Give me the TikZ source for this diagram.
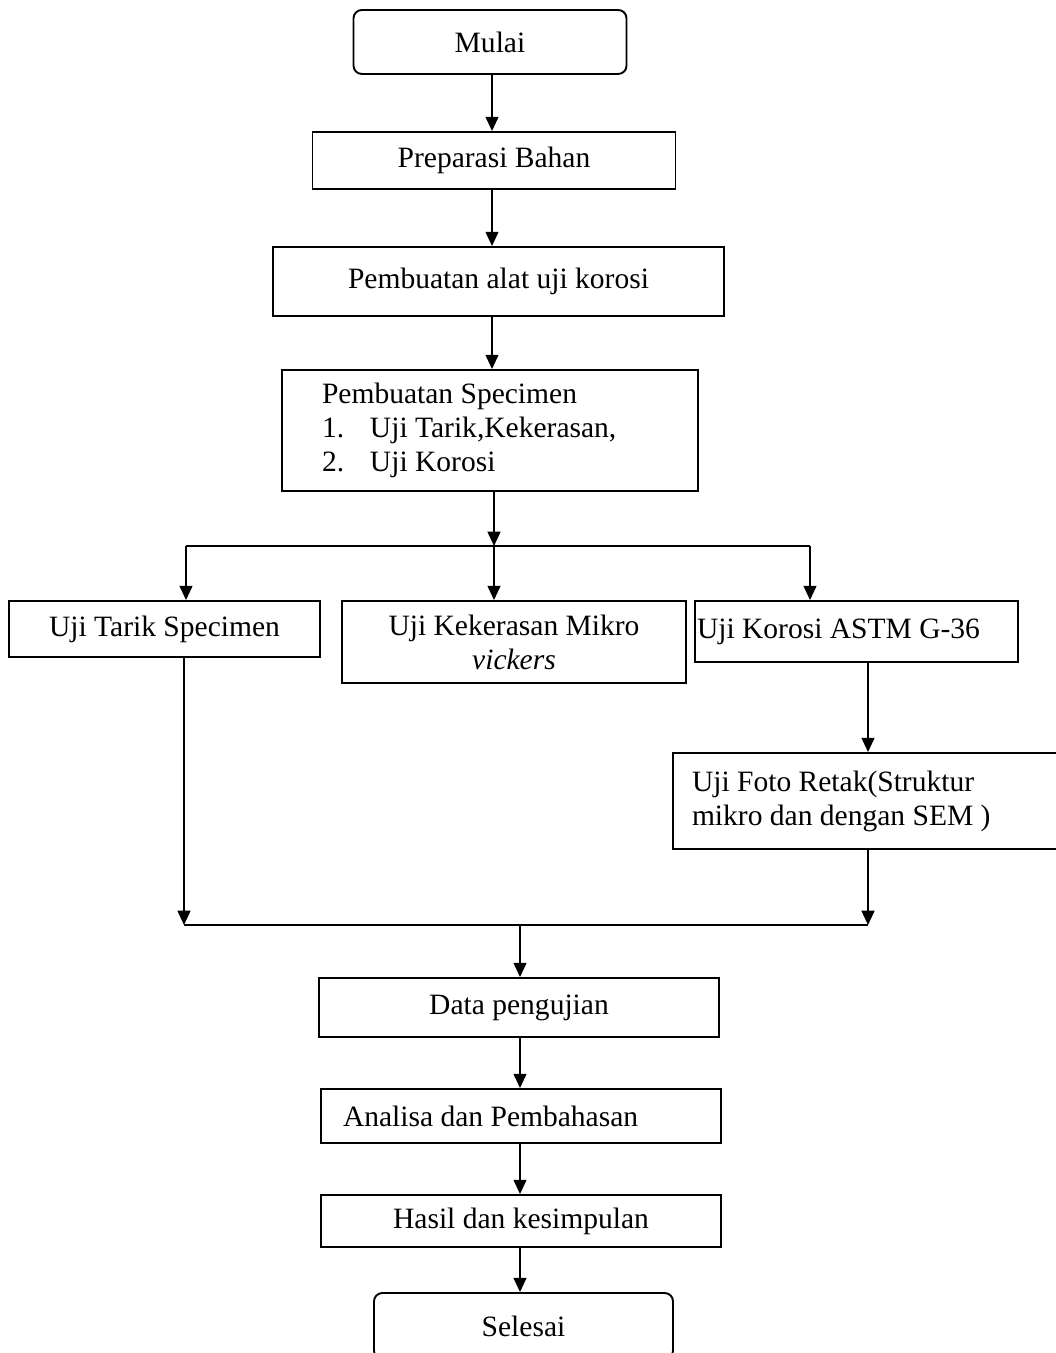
\documentclass[tikz,border=0pt]{standalone}
\usepackage{fontspec}
\setmainfont{Liberation Serif}
\usetikzlibrary{arrows.meta}
\newdimen\pxu
\pxu=0.42pt
\tikzset{
  box/.style={draw, line width=0.8pt, inner sep=0pt, align=center,
    font=\fontsize{12.4}{14.3}\selectfont},
  endbox/.style={box, rounded corners=3.5pt},
  flow/.style={line width=0.8pt, ->}
}

\begin{document}
\begin{tikzpicture}[x=0.42pt, y=-0.42pt, >={Triangle[length=6pt,width=5.4pt]}]
    \useasboundingbox (0,0) rectangle (1055,1353);

    \node[endbox, minimum width=273\pxu, minimum height=64\pxu] (mulai) at (490,42) {Mulai};
    \node[box, minimum width=363\pxu, minimum height=57\pxu] (preparasi) at (494,160.5) {Preparasi Bahan};
    \node[box, minimum width=451\pxu, minimum height=69\pxu] (alat) at (498.5,281.5) {Pembuatan alat uji korosi\strut};
    \node[box, minimum width=416\pxu, minimum height=121\pxu, align=flush left, text width=336\pxu, inner xsep=40\pxu] (specimen) at (490,430.5)
      {Pembuatan Specimen\\\makebox[48\pxu][l]{1.}Uji Tarik,Kekerasan,\\\makebox[48\pxu][l]{2.}Uji Korosi};
    \draw[flow] (mulai.south -| 492,0) -- (preparasi.north -| 492,0);
    \draw[flow] (preparasi.south -| 492,0) -- (alat.north -| 492,0);
    \draw[flow] (alat.south -| 492,0) -- (specimen.north -| 492,0);

    \coordinate (splitL) at (186,546);
    \coordinate (splitC) at (494,546);
    \coordinate (splitR) at (810,546);
    \draw[flow] (specimen.south -| splitC) -- (splitC);
    \draw[line width=0.8pt] (splitL) -- (splitR);

    \node[box, minimum width=311\pxu, minimum height=56\pxu] (tarik) at (164.5,629) {Uji Tarik Specimen};
    \node[box, minimum width=344\pxu, minimum height=82\pxu] (kekerasan) at (514,642) {Uji Kekerasan Mikro\\\textit{vickers}};
    \node[box, minimum width=323\pxu, minimum height=61\pxu, align=flush left, text width=319\pxu, inner xsep=2\pxu] (korosi) at (856.5,631.5) {Uji Korosi ASTM G-36};
    \draw[flow] (splitL) -- (splitL |- tarik.north);
    \draw[flow] (splitC) -- (splitC |- kekerasan.north);
    \draw[flow] (splitR) -- (splitR |- korosi.north);

    \coordinate (joinL) at (184,925);
    \coordinate (joinC) at (520,925);
    \coordinate (joinR) at (868,925);

    \node[box, minimum width=402\pxu, minimum height=96\pxu, align=flush left, text width=364\pxu, inner xsep=19\pxu] (foto) at (874,801)
      {Uji Foto Retak(Struktur\\mikro dan dengan SEM )};
    \draw[flow] (korosi.south -| joinR) -- (foto.north -| joinR);
    \draw[flow] (tarik.south -| joinL) -- (joinL);
    \draw[flow] (foto.south -| joinR) -- (joinR);
    \draw[line width=0.8pt] (joinL) -- (joinR);

    \node[box, minimum width=400\pxu, minimum height=59\pxu] (data) at (519,1007.5) {Data pengujian};
    \node[box, minimum width=400\pxu, minimum height=54\pxu, align=flush left, text width=356\pxu, inner xsep=22\pxu] (analisa) at (521,1116) {Analisa dan Pembahasan};
    \node[box, minimum width=400\pxu, minimum height=52\pxu] (hasil) at (521,1221) {Hasil dan kesimpulan};
    \node[endbox, minimum width=299\pxu, minimum height=66\pxu] (selesai) at (523.5,1326) {Selesai};
    \draw[flow] (joinC) -- (joinC |- data.north);
    \draw[flow] (data.south -| joinC) -- (analisa.north -| joinC);
    \draw[flow] (analisa.south -| joinC) -- (hasil.north -| joinC);
    \draw[flow] (hasil.south -| joinC) -- (selesai.north -| joinC);
\end{tikzpicture}
\end{document}
